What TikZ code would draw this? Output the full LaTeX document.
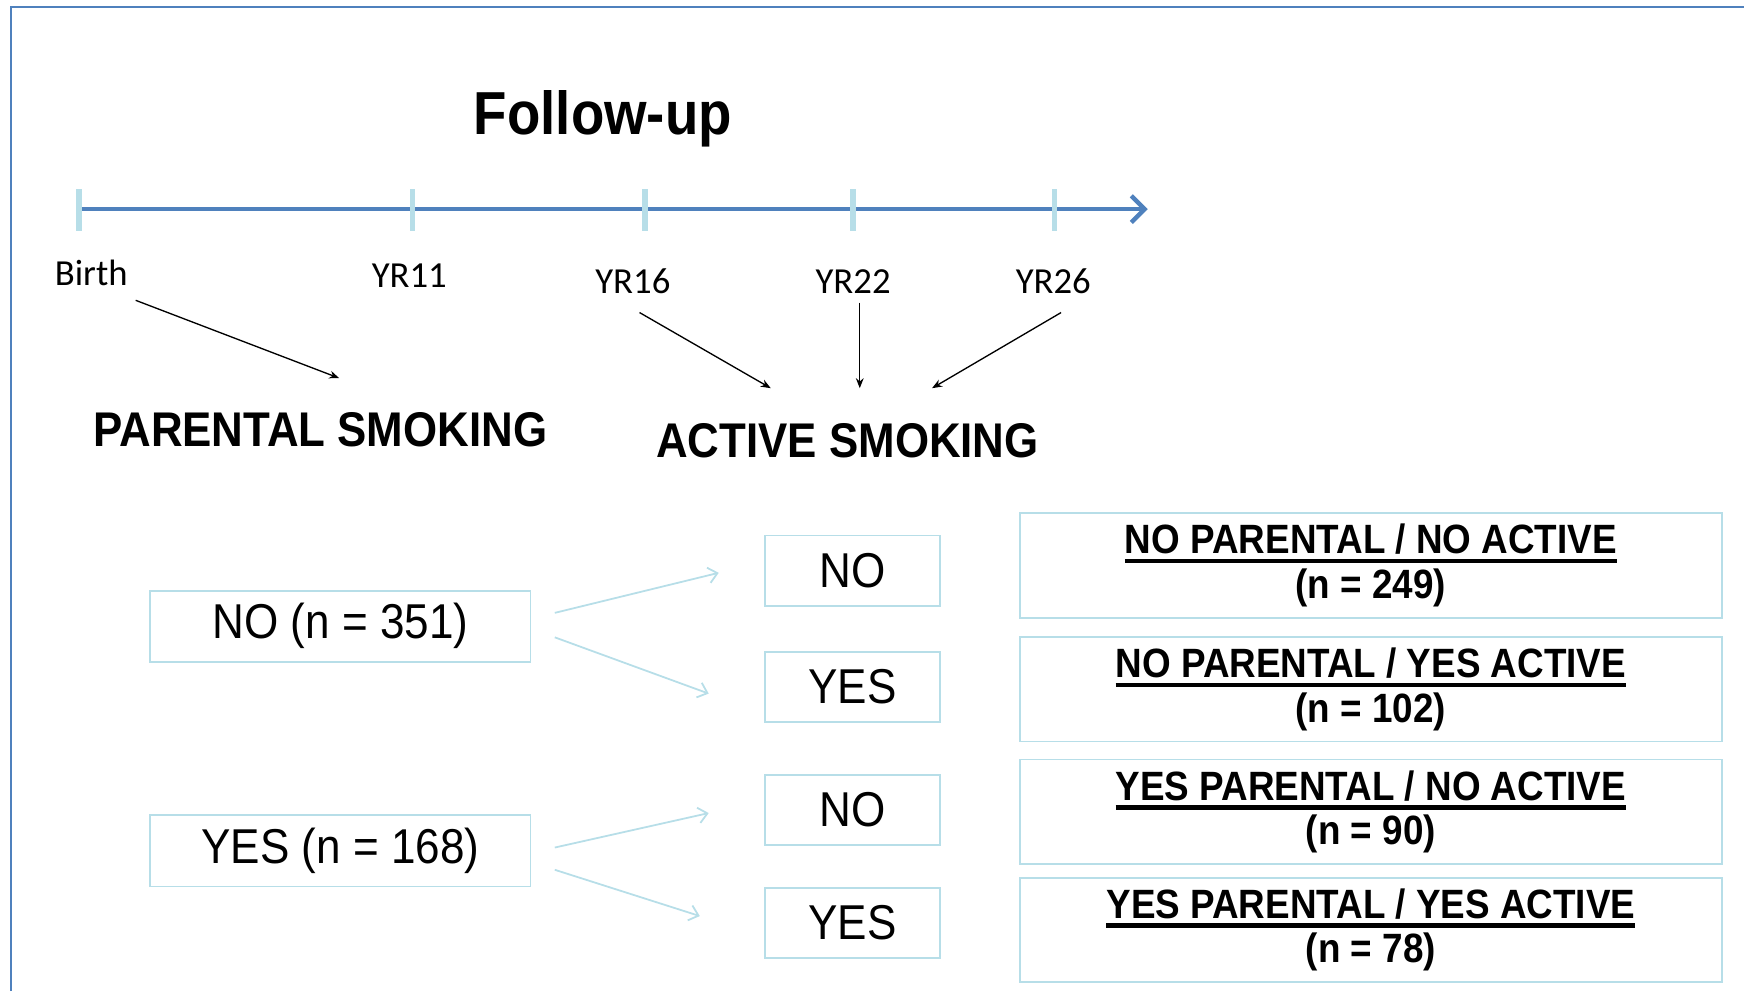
\documentclass[tikz,border=0pt]{standalone}
\usepackage{fontspec}
\setmainfont{Liberation Sans}[FakeStretch=0.9]
\newfontfamily\calfont{Carlito}
\usepackage{tikz}
\usetikzlibrary{arrows.meta, calc, positioning}

\definecolor{bordoblu}{HTML}{4F81BD}
\definecolor{azzurro}{HTML}{B7DEE8}

% sottolineatura spessa
\newcommand{\sottolinea}[1]{\setbox0\hbox{#1}\rlap{\vrule width\wd0 height -2.3pt depth 4.3pt}\box0}

\begin{document}
\begin{tikzpicture}[x=0.5pt, y=-0.5pt, >={Stealth[length=4.5pt, width=3.5pt]}]
        % --- STILI ---
        \tikzset{
            frame/.style={draw=bordoblu, line width=1pt},
            axis/.style={draw=bordoblu, line width=2pt, -{Straight Barb[length=6pt, width=12pt]}},
            tick/.style={draw=azzurro, line width=2.5pt},
            tlab/.style={font=\calfont\fontsize{16.5}{19}\selectfont, inner sep=0pt},
            title/.style={font=\bfseries\fontsize{27.3}{30}\selectfont, inner sep=0pt},
            heading/.style={font=\bfseries\fontsize{21.9}{25}\selectfont, inner sep=0pt},
            box/.style={draw=azzurro, line width=0.8pt, minimum width=171pt, minimum height=32pt, font=\fontsize{22}{26}\selectfont},
            ansbox/.style={draw=azzurro, line width=0.8pt, minimum width=78.5pt, minimum height=31.5pt, font=\fontsize{22}{26}\selectfont},
            grpbox/.style={draw=azzurro, line width=0.8pt, minimum width=315.5pt, minimum height=47pt, inner sep=2pt, align=center, font=\bfseries\fontsize{18.4}{20}\selectfont},
            pointer/.style={->, line width=0.6pt, black},
            branch/.style={draw=azzurro, line width=0.8pt, -{Straight Barb[length=4pt, width=7pt]}}
        }

        \useasboundingbox (0,0) rectangle (1568,891);
        \draw[frame] (10,891) -- (10,6) -- (1568,6);

        % --- ASSE TEMPORALE ---
        \node[title] (followup) at (542,107) {Follow-up};

        \coordinate (ax_start) at (71,188);
        \coordinate (ax_end) at (1032,188);
        \draw[axis] (ax_start) -- (ax_end);
        \foreach \x in {71, 371, 580, 767, 948}
            \draw[tick] (\x,170) -- (\x,208);

        \foreach \x/\y/\testo/\nome in {82/245/Birth/birth, 368/248/YR11/yr11, 569/253/YR16/yr16, 767/253/YR22/yr22, 947/253/YR26/yr26}
            \node[tlab] (\nome) at (\x,\y) {\testo};

        % --- ESPOSIZIONI ---
        \node[heading] (parental) at (288,386) {PARENTAL SMOKING};
        \node[heading] (active) at (762,396) {ACTIVE SMOKING};

        \draw[pointer] ($(birth)+(40,25)$) -- ($(parental)+(17,-46)$);
        \draw[pointer] ($(yr16)+(6,28)$) -- ($(active)+(-69,-47)$);
        \draw[pointer] ($(yr22)+(6,19)$) -- ($(active)+(11,-47)$);
        \draw[pointer] ($(yr26)+(7,28)$) -- ($(active)+(76,-47)$);

        % --- GRUPPI ---
        \node[box] (par_no) at (306,563) {NO (n = 351)};
        \node[box] (par_yes) at (306,765) {YES (n = 168)};

        \node[ansbox] (act_no1) at (766.5,513) {NO};
        \node[ansbox, below=20pt of act_no1] (act_yes1) {YES};
        \node[ansbox] (act_no2) at (766.5,728) {NO};
        \node[ansbox, below=18.5pt of act_no2] (act_yes2) {YES};

        \node[grpbox] (grp1) at (1232.5,508.5) {\sottolinea{NO PARENTAL / NO ACTIVE}\\(n = 249)};
        \node[grpbox, below=7.8pt of grp1] (grp2) {\sottolinea{NO PARENTAL / YES ACTIVE}\\(n = 102)};
        \node[grpbox, below=7.3pt of grp2] (grp3) {\sottolinea{YES PARENTAL / NO ACTIVE}\\(n = 90)};
        \node[grpbox, below=5.3pt of grp3] (grp4) {\sottolinea{YES PARENTAL / YES ACTIVE}\\(n = 78)};

        \draw[branch] ($(par_no.east)+(21,-12)$) -- ($(act_no1.west)+(-41,2)$);
        \draw[branch] ($(par_no.east)+(21,10)$) -- ($(act_yes1.west)+(-50,6)$);
        \draw[branch] ($(par_yes.east)+(21,-3)$) -- ($(act_no2.west)+(-50,3)$);
        \draw[branch] ($(par_yes.east)+(21,17)$) -- ($(act_yes2.west)+(-58,-6)$);

    \end{tikzpicture}
\end{document}
